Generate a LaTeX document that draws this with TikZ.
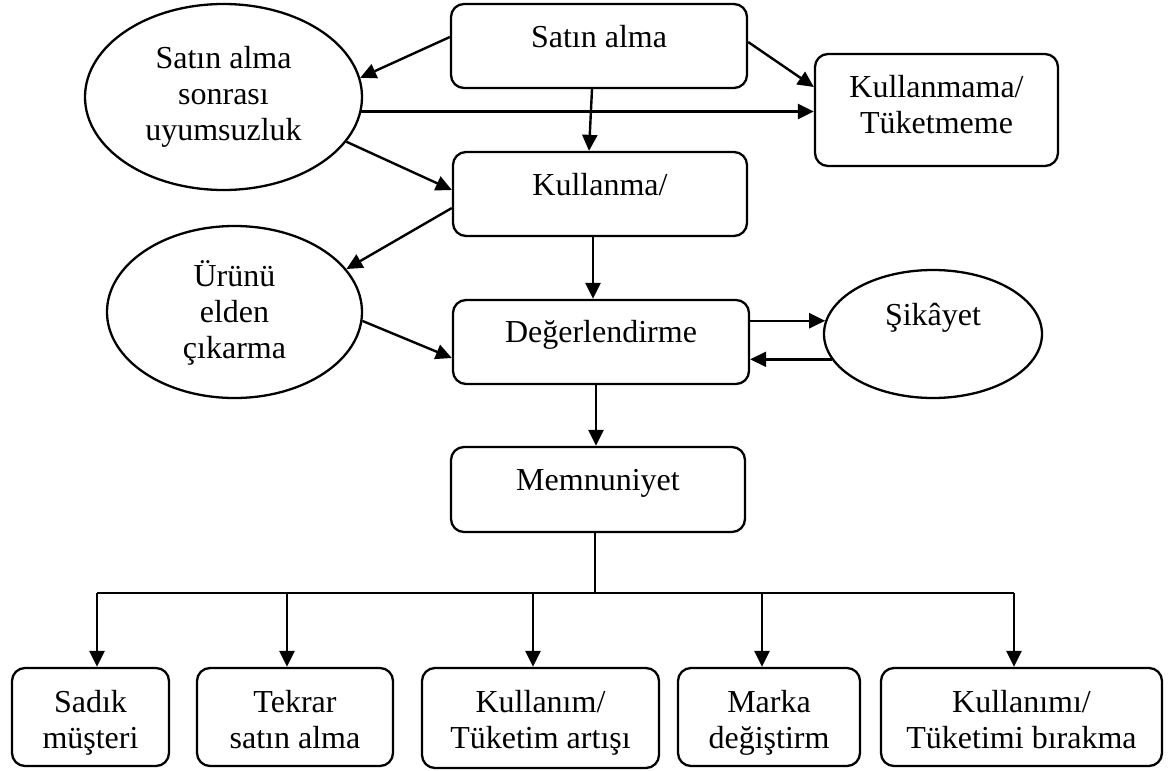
\documentclass[tikz,border=0pt]{standalone}
\usepackage{fontspec}
\setmainfont{Liberation Serif}
\usetikzlibrary{shapes.geometric,arrows.meta}
\begin{document}
\begin{tikzpicture}[x=1pt,y=-1pt,
  every node/.style={font=\fontsize{32}{36}\selectfont, align=center, inner sep=0pt, line width=2.3pt},
  rbox/.style={draw, rounded corners=13pt, rectangle},
  oval/.style={draw, ellipse},
  arr/.style={line width=2.4pt, -{Triangle[length=16pt,width=15pt]}},
  ln/.style={line width=2.4pt}]
\useasboundingbox (0,0) rectangle (1170,771);
% boxes
\node[rbox, minimum width=296pt, minimum height=84pt, text height=43pt, text depth=41pt] (sa) at (599,46) {Satın alma};
\node[rbox, minimum width=294pt, minimum height=84pt, text height=43pt, text depth=41pt] (ku) at (600,194) {Kullanma/};
\node[rbox, minimum width=296pt, minimum height=84pt, text height=42pt, text depth=42pt] (de) at (601,342) {Değerlendirme};
\node[rbox, minimum width=294pt, minimum height=85pt, text height=43pt, text depth=42pt] (me) at (598,489.5) {Memnuniyet};
\node[rbox, minimum width=243pt, minimum height=112pt, text height=79pt, text depth=33pt] (kt) at (936.5,110) {Kullanmama/\\Tüketmeme};
% ellipses
\node[oval, minimum width=277pt, minimum height=186pt, text height=106pt, text depth=20pt] (e1) at (223.5,97) {Satın alma\\sonrası\\uyumsuzluk};
\node[oval, minimum width=255pt, minimum height=172pt, text height=106pt, text depth=14pt] (e2) at (234.5,312) {Ürünü\\elden\\çıkarma};
\node[oval, minimum width=218pt, minimum height=128pt, text height=25pt, text depth=43pt] (e3) at (933,334) {Şikâyet};
% bottom boxes
\node[rbox, minimum width=157pt, minimum height=98pt, text height=80pt, text depth=18pt] (b1) at (90.5,717) {Sadık\\müşteri};
\node[rbox, minimum width=196pt, minimum height=98pt, text height=80pt, text depth=18pt] (b2) at (295,717) {Tekrar\\satın alma};
\node[rbox, minimum width=237pt, minimum height=100pt, text height=80pt, text depth=20pt] (b3) at (540.5,718) {Kullanım/\\Tüketim artışı};
\node[rbox, minimum width=182pt, minimum height=98pt, text height=80pt, text depth=18pt] (b4) at (769,717) {Marka\\değiştirm};
\node[rbox, minimum width=281pt, minimum height=98pt, text height=80pt, text depth=18pt] (b5) at (1021.5,717) {Kullanımı/\\Tüketimi bırakma};
% connectors
\draw[arr] ([yshift=9pt]sa.west) -- (e1.8);
\draw[arr] ([yshift=4pt]sa.east) -- ([yshift=23pt]kt.west);
\draw[arr] (e1.-6.3) -- (e1.-6.3 -| kt.west);
\draw[arr] ([xshift=-7pt]sa.south) -- ([xshift=-11pt]ku.north);
\draw[arr] (e1.-20) -- ([yshift=4pt]ku.west);
\draw[arr] ([yshift=-14pt]ku.west) -- (e2.21);
\draw[arr] ([xshift=-7pt]ku.south) -- ([xshift=-8pt]de.north);
\draw[arr] (e2.-4.5) -- ([yshift=-16pt]de.west);
\draw[arr] (de.east |- e3.173.6) -- (e3.173.6);
\draw[arr] (e3.194.6) -- (e3.194.6 -| de.east);
\draw[arr] ([xshift=-5pt]de.south) -- ([xshift=-2pt]me.north);
% distribution bus
\coordinate (bus) at (595,593);
\coordinate (j1) at (97,593);
\coordinate (j2) at (287,593);
\coordinate (j3) at (533,593);
\coordinate (j4) at (762,593);
\coordinate (j5) at (1014,593);
\draw[ln] ([xshift=-3pt]me.south) -- (bus);
\draw[ln] (j1) -- (j5);
\draw[arr] (j1) -- (j1 |- b1.north);
\draw[arr] (j2) -- (j2 |- b2.north);
\draw[arr] (j3) -- (j3 |- b3.north);
\draw[arr] (j4) -- (j4 |- b4.north);
\draw[arr] (j5) -- (j5 |- b5.north);
\end{tikzpicture}
\end{document}
